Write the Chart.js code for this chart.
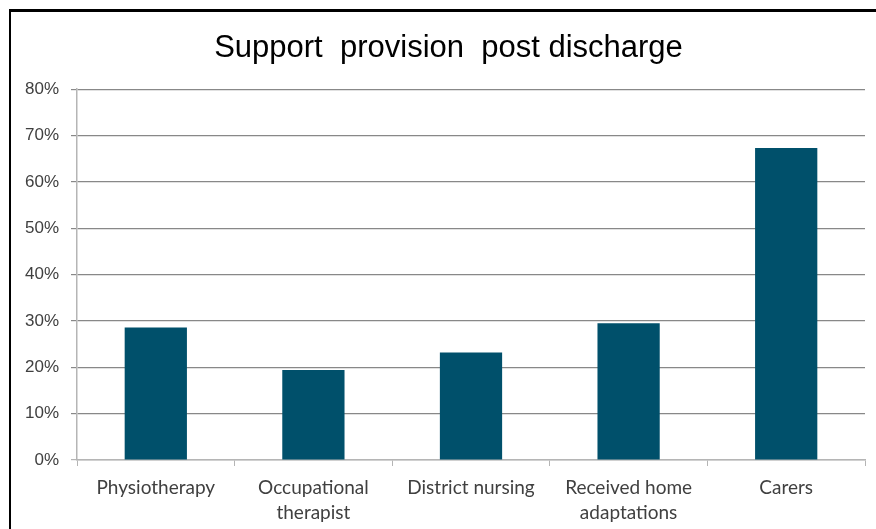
<!DOCTYPE html>
<html>
<head>
<meta charset="utf-8">
<script src="https://cdn.jsdelivr.net/npm/chart.js@4/dist/chart.umd.min.js"></script>
<style>
  html, body { margin: 0; padding: 0; background: #fff; }
  #wrap { position: relative; width: 876px; height: 529px; overflow: hidden; }
  #frame { position: absolute; left: 9px; top: 9px; width: 900px; height: 600px;
           border-left: 2px solid #000; border-top: 3px solid #000; pointer-events: none; }
</style>
</head>
<body>
<div id="wrap">
  <canvas id="chart" width="876" height="529"></canvas>
  <div id="frame"></div>
</div>
<script>
// DATA
const chartTitle = "Support  provision  post discharge";
const categories = [
    ["Physiotherapy"],
    ["Occupational", "therapist"],
    ["District nursing"],
    ["Received home", "adaptations"],
    ["Carers"]
];
const shares = [28.6, 19.4, 23.2, 29.5, 67.3];
const yTicks = [0, 10, 20, 30, 40, 50, 60, 70, 80];

const barColor = '#00506b';
const gridColor = '#888888';
const axisColor = '#b5b5b5';

// title sits a little right of the canvas centre in the original
const titleNudge = {
    id: 'titleNudge',
    afterLayout(chart) {
        const t = chart.titleBlock;
        if (t) { t.left += 9; t.right += 9; }
    }
};

// CHART
const ctx = document.getElementById('chart').getContext('2d');
new Chart(ctx, {
    type: 'bar',
    data: {
        labels: categories,
        datasets: [{
            data: shares,
            backgroundColor: barColor,
            borderWidth: 0,
            categoryPercentage: 1,
            barPercentage: 0.395
        }]
    },
    options: {
        responsive: false,
        animation: false,
        layout: { padding: { left: 14, right: 11, top: 0, bottom: 0 } },
        plugins: {
            legend: { display: false },
            tooltip: { enabled: false },
            title: {
                display: true,
                text: chartTitle,
                color: '#000',
                font: { family: 'Liberation Sans, Arial, sans-serif', size: 31, weight: 'normal' },
                padding: { top: 30, bottom: 22 }
            }
        },
        scales: {
            x: {
                grid: { drawOnChartArea: false, drawTicks: true, tickLength: 6, color: axisColor, offset: true },
                border: { color: axisColor, width: 1.5 },
                ticks: {
                    color: '#404040',
                    font: { family: 'Lato, Carlito, sans-serif', size: 19, lineHeight: 1.3 },
                    padding: 10,
                    maxRotation: 0,
                    autoSkip: false
                },
                afterFit: s => { s.height = 69; }
            },
            y: {
                min: 0,
                max: 80,
                afterBuildTicks: s => { s.ticks = yTicks.map(v => ({ value: v })); },
                grid: {
                    color: c => c.tick && c.tick.value === 0 ? axisColor : gridColor,
                    lineWidth: 1.2,
                    tickLength: 6
                },
                border: { color: axisColor, width: 1.5 },
                ticks: {
                    color: '#404040',
                    font: { family: 'Liberation Sans, Arial, sans-serif', size: 17 },
                    padding: 12,
                    callback: v => v + '%'
                },
                afterFit: s => { s.width = 63; }
            }
        }
    },
    plugins: [titleNudge]
});
</script>
</body>
</html>
